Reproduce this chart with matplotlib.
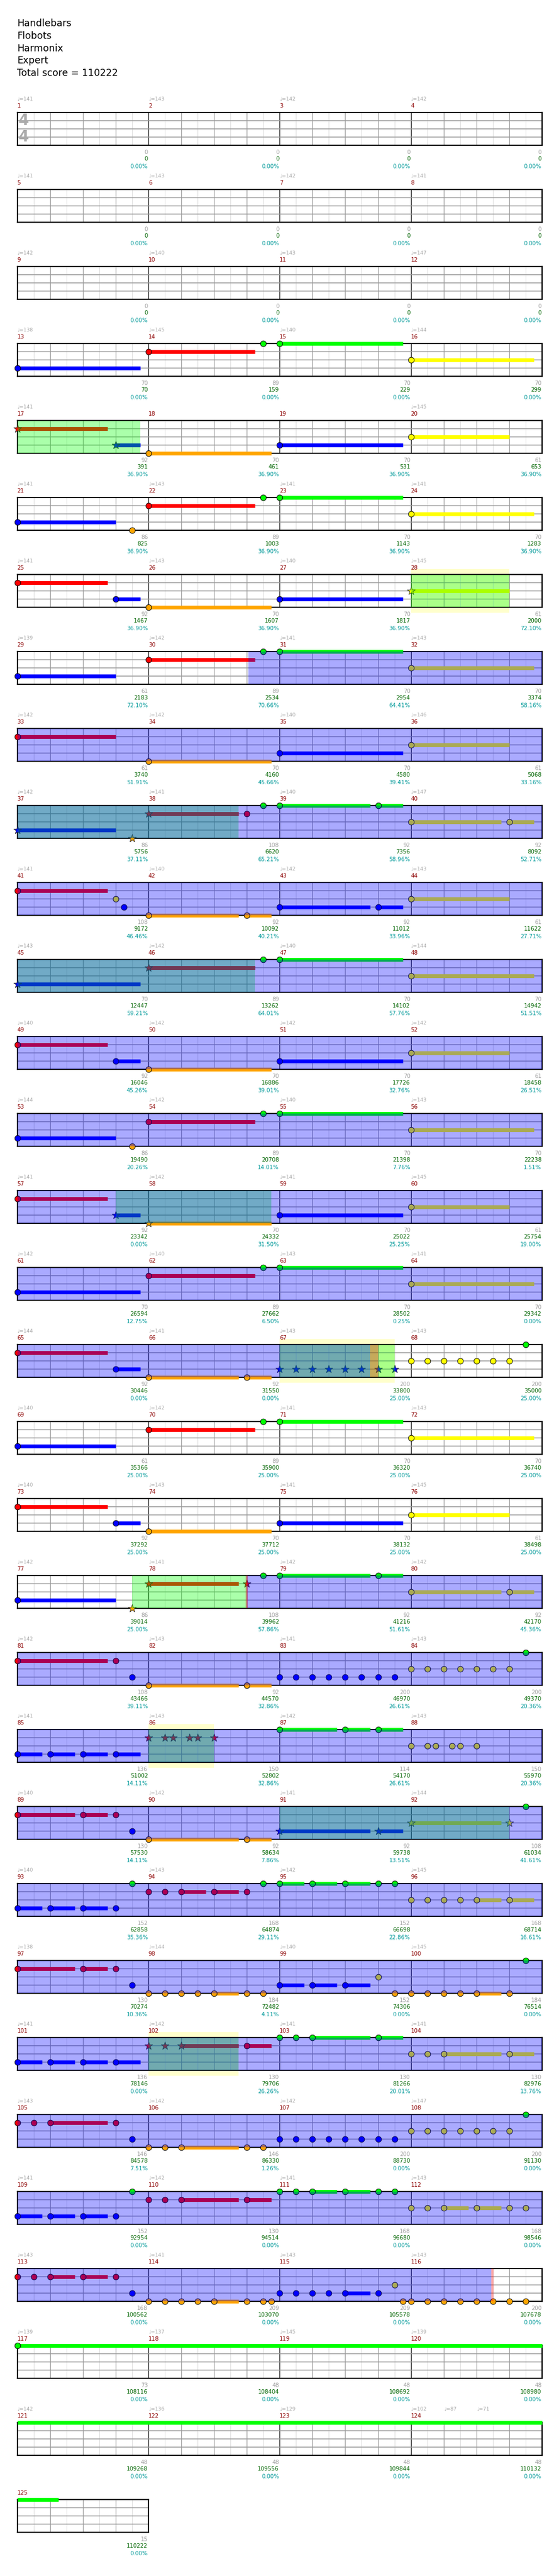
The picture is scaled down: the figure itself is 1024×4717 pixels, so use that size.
import matplotlib
matplotlib.use("Agg")
import matplotlib.pyplot as plt
from matplotlib.patches import Rectangle

W, H = 1024, 4717

title_lines = ["Handlebars", "Flobots", "Harmonix", "Expert", "Total score = 110222"]

# tempo shown at the start of each measure (None = no label)
tempos = [141, 143, 142, 142, 141, 143, 142, 141, 142, 140, 143, 147,
          138, 145, 140, 144, 141, None, None, 145, 141, 143, 141, 141,
          141, 143, 140, 145, 139, 142, 141, 143, 142, 142, 140, 146,
          142, 141, 140, 147, 141, 140, 142, 143, 143, 142, 140, 144,
          140, 142, 142, 142, 144, 142, 140, 143, 141, 142, 141, 145,
          142, 140, 143, 141, 144, 141, 143, 143, 140, 142, 141, 143,
          140, 143, 141, 145, 142, 141, 142, 142, 142, 143, 141, 143,
          141, 143, 142, 143, 140, 142, 141, 144, 140, 143, 142, 145,
          138, 144, 140, 145, 141, 142, 141, 141, 143, 142, 142, 147,
          141, 142, 141, 143, 143, 141, 143, 143, 139, 137, 145, 139,
          142, 136, 129, 102, None]
# (measure, beat within measure, bpm)
extra_tempos = [(124, 1.0, 87), (124, 2.0, 71)]

measure_points = [0] * 12 + [
    70, 89, 70, 70, 92, 70, 70, 61, 86, 89, 70, 70, 92, 70, 70, 61,
    61, 89, 70, 70, 61, 70, 70, 61, 86, 108, 92, 92, 108, 92, 92, 61,
    70, 89, 70, 70, 92, 70, 70, 61, 86, 89, 70, 70, 92, 70, 70, 61,
    70, 89, 70, 70, 92, 92, 200, 200, 61, 89, 70, 70, 92, 70, 70, 61,
    86, 108, 92, 92, 108, 92, 200, 200, 136, 150, 114, 150, 130, 92, 92, 108,
    152, 168, 152, 168, 130, 184, 152, 184, 136, 130, 130, 130, 146, 146, 200, 200,
    152, 130, 168, 168, 168, 209, 209, 200, 73, 48, 48, 48, 48, 48, 48, 48, 15]

cumulative = [0] * 12 + [
    70, 159, 229, 299, 391, 461, 531, 653, 825, 1003, 1143, 1283,
    1467, 1607, 1817, 2000, 2183, 2534, 2954, 3374, 3740, 4160, 4580, 5068,
    5756, 6620, 7356, 8092, 9172, 10092, 11012, 11622, 12447, 13262, 14102, 14942,
    16046, 16886, 17726, 18458, 19490, 20708, 21398, 22238, 23342, 24332, 25022, 25754,
    26594, 27662, 28502, 29342, 30446, 31550, 33800, 35000, 35366, 35900, 36320, 36740,
    37292, 37712, 38132, 38498, 39014, 39962, 41216, 42170, 43466, 44570, 46970, 49370,
    51002, 52802, 54170, 55970, 57530, 58634, 59738, 61034, 62858, 64874, 66698, 68714,
    70274, 72482, 74306, 76514, 78146, 79706, 81266, 82976, 84578, 86330, 88730, 91130,
    92954, 94514, 96680, 98546, 100562, 103070, 105578, 107678,
    108116, 108404, 108692, 108980, 109268, 109556, 109844, 110132, 110222]

od_percent = [0.0] * 16 + [
    36.90, 36.90, 36.90, 36.90, 36.90, 36.90, 36.90, 36.90, 36.90, 36.90, 36.90, 72.10,
    72.10, 70.66, 64.41, 58.16, 51.91, 45.66, 39.41, 33.16, 37.11, 65.21, 58.96, 52.71,
    46.46, 40.21, 33.96, 27.71, 59.21, 64.01, 57.76, 51.51, 45.26, 39.01, 32.76, 26.51,
    20.26, 14.01, 7.76, 1.51, 0.00, 31.50, 25.25, 19.00, 12.75, 6.50, 0.25, 0.00,
    0.00, 0.00, 25.00, 25.00, 25.00, 25.00, 25.00, 25.00, 25.00, 25.00, 25.00, 25.00,
    25.00, 57.86, 51.61, 45.36, 39.11, 32.86, 26.61, 20.36, 14.11, 32.86, 26.61, 20.36,
    14.11, 7.86, 13.51, 41.61, 35.36, 29.11, 22.86, 16.61, 10.36, 4.11, 0.00, 0.00,
    0.00, 26.26, 20.01, 13.76, 7.51, 1.26, 0.00, 0.00, 0.00, 0.00, 0.00, 0.00,
    0.00, 0.00, 0.00, 0.00] + [0.0] * 9

# notes: (first measure of row, beat within row, lane, sustain end beat (0 = none), kind)
# kind: 0 normal gem, 1 star-power gem, 2 sustain tail only (no gem)
notes = [
    (13, 0, 'B', 3.75, 0), (13, 4, 'R', 7.25, 0), (13, 7.5, 'G', 0, 0), (13, 8, 'G', 11.75, 0), (13, 12, 'Y', 15.75, 0),
    (17, 0, 'R', 2.75, 1), (17, 3, 'B', 3.75, 1), (17, 4, 'O', 7.75, 0), (17, 8, 'B', 11.75, 0), (17, 12, 'Y', 15, 0),
    (21, 0, 'B', 3, 0), (21, 3.5, 'O', 0, 0), (21, 4, 'R', 7.25, 0), (21, 7.5, 'G', 0, 0), (21, 8, 'G', 11.75, 0), (21, 12, 'Y', 15.75, 0),
    (25, 0, 'R', 2.75, 0), (25, 3, 'B', 3.75, 0), (25, 4, 'O', 7.75, 0), (25, 8, 'B', 11.75, 0), (25, 12, 'Y', 15, 1),
    (29, 0, 'B', 3, 0), (29, 4, 'R', 7.25, 0), (29, 7.5, 'G', 0, 0), (29, 8, 'G', 11.75, 0), (29, 12, 'Y', 15.75, 0),
    (33, 0, 'R', 3, 0), (33, 4, 'O', 7.75, 0), (33, 8, 'B', 11.75, 0), (33, 12, 'Y', 15, 0),
    (37, 0, 'B', 3, 1), (37, 3.5, 'O', 0, 1), (37, 4, 'R', 6.75, 1), (37, 7, 'R', 0, 0), (37, 7.5, 'G', 0, 0),
    (37, 8, 'G', 10.75, 0), (37, 11, 'G', 11.75, 0), (37, 12, 'Y', 14.75, 0), (37, 15, 'Y', 15.75, 0),
    (41, 0, 'R', 2.75, 0), (41, 3, 'Y', 0, 0), (41, 3.25, 'B', 0, 0), (41, 4, 'O', 6.75, 0), (41, 7, 'O', 7.75, 0),
    (41, 8, 'B', 10.75, 0), (41, 11, 'B', 11.75, 0), (41, 12, 'Y', 15, 0),
    (45, 0, 'B', 3.75, 1), (45, 4, 'R', 7.25, 1), (45, 7.5, 'G', 0, 0), (45, 8, 'G', 11.75, 0), (45, 12, 'Y', 15.75, 0),
    (49, 0, 'R', 2.75, 0), (49, 3, 'B', 3.75, 0), (49, 4, 'O', 7.75, 0), (49, 8, 'B', 11.75, 0), (49, 12, 'Y', 15, 0),
    (53, 0, 'B', 3, 0), (53, 3.5, 'O', 0, 0), (53, 4, 'R', 7.25, 0), (53, 7.5, 'G', 0, 0), (53, 8, 'G', 11.75, 0), (53, 12, 'Y', 15.75, 0),
    (57, 0, 'R', 2.75, 0), (57, 3, 'B', 3.75, 1), (57, 4, 'O', 7.75, 1), (57, 8, 'B', 11.75, 0), (57, 12, 'Y', 15, 0),
    (61, 0, 'B', 3.75, 0), (61, 4, 'R', 7.25, 0), (61, 7.5, 'G', 0, 0), (61, 8, 'G', 11.75, 0), (61, 12, 'Y', 15.75, 0),
    (65, 0, 'R', 2.75, 0), (65, 3, 'B', 3.75, 0), (65, 4, 'O', 6.75, 0), (65, 7, 'O', 7.75, 0),
    (65, 8, 'B', 0, 1), (65, 8.5, 'B', 0, 1), (65, 9, 'B', 0, 1), (65, 9.5, 'B', 0, 1),
    (65, 10, 'B', 0, 1), (65, 10.5, 'B', 0, 1), (65, 11, 'B', 0, 1), (65, 11.5, 'B', 0, 1),
    (65, 12, 'Y', 0, 0), (65, 12.5, 'Y', 0, 0), (65, 13, 'Y', 0, 0), (65, 13.5, 'Y', 0, 0),
    (65, 14, 'Y', 0, 0), (65, 14.5, 'Y', 0, 0), (65, 15, 'Y', 0, 0), (65, 15.5, 'G', 0, 0),
    (69, 0, 'B', 3, 0), (69, 4, 'R', 7.25, 0), (69, 7.5, 'G', 0, 0), (69, 8, 'G', 11.75, 0), (69, 12, 'Y', 15.75, 0),
    (73, 0, 'R', 2.75, 0), (73, 3, 'B', 3.75, 0), (73, 4, 'O', 7.75, 0), (73, 8, 'B', 11.75, 0), (73, 12, 'Y', 15, 0),
    (77, 0, 'B', 3, 0), (77, 3.5, 'O', 0, 1), (77, 4, 'R', 6.75, 1), (77, 7, 'R', 0, 1), (77, 7.5, 'G', 0, 0),
    (77, 8, 'G', 10.75, 0), (77, 11, 'G', 11.75, 0), (77, 12, 'Y', 14.75, 0), (77, 15, 'Y', 15.75, 0),
    (81, 0, 'R', 2.75, 0), (81, 3, 'R', 0, 0), (81, 3.5, 'B', 0, 0), (81, 4, 'O', 6.75, 0), (81, 7, 'O', 7.75, 0),
    (81, 8, 'B', 0, 0), (81, 8.5, 'B', 0, 0), (81, 9, 'B', 0, 0), (81, 9.5, 'B', 0, 0),
    (81, 10, 'B', 0, 0), (81, 10.5, 'B', 0, 0), (81, 11, 'B', 0, 0), (81, 11.5, 'B', 0, 0),
    (81, 12, 'Y', 0, 0), (81, 12.5, 'Y', 0, 0), (81, 13, 'Y', 0, 0), (81, 13.5, 'Y', 0, 0),
    (81, 14, 'Y', 0, 0), (81, 14.5, 'Y', 0, 0), (81, 15, 'Y', 0, 0), (81, 15.5, 'G', 0, 0),
    (85, 0, 'B', 0.75, 0), (85, 1, 'B', 1.75, 0), (85, 2, 'B', 2.75, 0), (85, 3, 'B', 3.75, 0),
    (85, 4, 'R', 0, 1), (85, 4.5, 'R', 0, 1), (85, 4.75, 'R', 0, 1), (85, 5.25, 'R', 0, 1), (85, 5.5, 'R', 0, 1), (85, 6, 'R', 0, 1),
    (85, 8, 'G', 9.75, 0), (85, 10, 'G', 10.75, 0), (85, 11, 'G', 11.75, 0),
    (85, 12, 'Y', 0, 0), (85, 12.5, 'Y', 0, 0), (85, 12.75, 'Y', 0, 0), (85, 13.25, 'Y', 0, 0), (85, 13.5, 'Y', 0, 0), (85, 14, 'Y', 0, 0),
    (89, 0, 'R', 1.75, 0), (89, 2, 'R', 2.75, 0), (89, 3, 'R', 0, 0), (89, 3.5, 'B', 0, 0),
    (89, 4, 'O', 6.75, 0), (89, 7, 'O', 7.75, 0), (89, 8, 'B', 10.75, 1), (89, 11, 'B', 11.75, 1),
    (89, 12, 'Y', 14.75, 1), (89, 15, 'Y', 0, 1), (89, 15.5, 'G', 0, 0),
    (93, 0, 'B', 0.75, 0), (93, 1, 'B', 1.75, 0), (93, 2, 'B', 2.75, 0), (93, 3, 'B', 0, 0), (93, 3.5, 'G', 0, 0),
    (93, 4, 'R', 0, 0), (93, 4.5, 'R', 0, 0), (93, 5, 'R', 5.75, 0), (93, 6, 'R', 6.75, 0), (93, 7, 'R', 0, 0), (93, 7.5, 'G', 0, 0),
    (93, 8, 'G', 8.75, 0), (93, 9, 'G', 9.75, 0), (93, 10, 'G', 10.75, 0), (93, 11, 'G', 0, 0), (93, 11.5, 'G', 0, 0),
    (93, 12, 'Y', 0, 0), (93, 12.5, 'Y', 0, 0), (93, 13, 'Y', 0, 0), (93, 13.5, 'Y', 0, 0), (93, 14, 'Y', 14.75, 0), (93, 15, 'Y', 15.75, 0),
    (97, 0, 'R', 1.75, 0), (97, 2, 'R', 2.75, 0), (97, 3, 'R', 0, 0), (97, 3.5, 'B', 0, 0),
    (97, 4, 'O', 0, 0), (97, 4.5, 'O', 0, 0), (97, 5, 'O', 0, 0), (97, 5.5, 'O', 0, 0), (97, 6, 'O', 6.75, 0), (97, 7, 'O', 0, 0), (97, 7.5, 'O', 0, 0),
    (97, 8, 'B', 8.75, 0), (97, 9, 'B', 9.75, 0), (97, 10, 'B', 10.75, 0), (97, 11, 'Y', 0, 0),
    (97, 11.5, 'O', 0, 0), (97, 12, 'O', 0, 0), (97, 12.5, 'O', 0, 0), (97, 13, 'O', 0, 0), (97, 13.5, 'O', 0, 0),
    (97, 14, 'O', 14.75, 0), (97, 15, 'O', 0, 0), (97, 15.5, 'G', 0, 0),
    (101, 0, 'B', 0.75, 0), (101, 1, 'B', 1.75, 0), (101, 2, 'B', 2.75, 0), (101, 3, 'B', 3.75, 0),
    (101, 4, 'R', 0, 1), (101, 4.5, 'R', 0, 1), (101, 5, 'R', 6.75, 1), (101, 7, 'R', 7.75, 0),
    (101, 8, 'G', 0, 0), (101, 8.5, 'G', 0, 0), (101, 9, 'G', 10.75, 0), (101, 11, 'G', 11.75, 0),
    (101, 12, 'Y', 0, 0), (101, 12.5, 'Y', 0, 0), (101, 13, 'Y', 14.75, 0), (101, 15, 'Y', 15.75, 0),
    (105, 0, 'R', 0, 0), (105, 0.5, 'R', 0, 0), (105, 1, 'R', 2.75, 0), (105, 3, 'R', 0, 0), (105, 3.5, 'B', 0, 0),
    (105, 4, 'O', 0, 0), (105, 4.5, 'O', 0, 0), (105, 5, 'O', 6.75, 0), (105, 7, 'O', 0, 0), (105, 7.5, 'O', 0, 0),
    (105, 8, 'B', 0, 0), (105, 8.5, 'B', 0, 0), (105, 9, 'B', 0, 0), (105, 9.5, 'B', 0, 0),
    (105, 10, 'B', 0, 0), (105, 10.5, 'B', 0, 0), (105, 11, 'B', 0, 0), (105, 11.5, 'B', 0, 0),
    (105, 12, 'Y', 0, 0), (105, 12.5, 'Y', 0, 0), (105, 13, 'Y', 0, 0), (105, 13.5, 'Y', 0, 0),
    (105, 14, 'Y', 0, 0), (105, 14.5, 'Y', 0, 0), (105, 15, 'Y', 0, 0), (105, 15.5, 'G', 0, 0),
    (109, 0, 'B', 0.75, 0), (109, 1, 'B', 1.75, 0), (109, 2, 'B', 2.75, 0), (109, 3, 'B', 0, 0), (109, 3.5, 'G', 0, 0),
    (109, 4, 'R', 0, 0), (109, 4.5, 'R', 0, 0), (109, 5, 'R', 6.75, 0), (109, 7, 'R', 7.75, 0),
    (109, 8, 'G', 0, 0), (109, 8.5, 'G', 0, 0), (109, 9, 'G', 9.75, 0), (109, 10, 'G', 10.75, 0), (109, 11, 'G', 0, 0), (109, 11.5, 'G', 0, 0),
    (109, 12, 'Y', 0, 0), (109, 12.5, 'Y', 0, 0), (109, 13, 'Y', 13.75, 0), (109, 14, 'Y', 14.75, 0), (109, 15, 'Y', 0, 0), (109, 15.5, 'Y', 0, 0),
    (113, 0, 'R', 0, 0), (113, 0.5, 'R', 0, 0), (113, 1, 'R', 1.75, 0), (113, 2, 'R', 2.75, 0), (113, 3, 'R', 0, 0), (113, 3.5, 'B', 0, 0),
    (113, 4, 'O', 0, 0), (113, 4.5, 'O', 0, 0), (113, 5, 'O', 0, 0), (113, 5.5, 'O', 0, 0), (113, 6, 'O', 6.75, 0),
    (113, 7, 'O', 0, 0), (113, 7.5, 'O', 0, 0), (113, 7.75, 'O', 0, 0),
    (113, 8, 'B', 0, 0), (113, 8.5, 'B', 0, 0), (113, 9, 'B', 0, 0), (113, 9.5, 'B', 0, 0), (113, 10, 'B', 10.75, 0), (113, 11, 'B', 0, 0),
    (113, 11.5, 'Y', 0, 0), (113, 11.75, 'O', 0, 0), (113, 12, 'O', 0, 0), (113, 12.5, 'O', 0, 0), (113, 13, 'O', 0, 0),
    (113, 13.5, 'O', 0, 0), (113, 14, 'O', 0, 0), (113, 14.5, 'O', 0, 0), (113, 15, 'O', 0, 0), (113, 15.5, 'O', 0, 0),
    (117, 0, 'G', 16, 0), (121, 0, 'G', 16, 2), (125, 0, 'G', 1.25, 2),
]

# shaded regions: (first measure of row, start beat, end beat)
overdrive = [(29, 7.04, 16), (33, 0, 16), (37, 0, 16), (41, 0, 16), (45, 0, 16), (49, 0, 16),
             (53, 0, 16), (57, 0, 16), (61, 0, 16), (65, 0, 10.75), (77, 7.0, 16), (81, 0, 16),
             (85, 0, 16), (89, 0, 16), (93, 0, 16), (97, 0, 16), (101, 0, 16), (105, 0, 16),
             (109, 0, 16), (113, 0, 14.45)]
star_phrases = [(17, 0, 3.75), (25, 12, 15), (37, 0, 6.75), (45, 0, 7.25), (57, 3, 7.75),
                (65, 8, 11.5), (77, 3.5, 7.0), (85, 4, 6), (89, 8, 15), (101, 4, 6.75)]
solo_zones = [(25, 12, 15), (65, 8, 11.5), (85, 4, 6), (101, 4, 6.75)]
od_end_marks = [(65, 10.75, 11.0), (77, 6.97, 7.03), (113, 14.45, 14.52)]

LANE = {'G': 0, 'R': 1, 'Y': 2, 'B': 3, 'O': 4}
COLOR = {'G': '#00FF00', 'R': '#FF0000', 'Y': '#FFFF00', 'B': '#0000FF', 'O': '#FFA500'}

PT = 0.72  # points per pixel at dpi 100
BOX_L, BOX_R = 31.5, 993.0
BOX_H = 60.0
FIRST_TOP = 206.0
ROW_PITCH = 141.0

fig = plt.figure(figsize=(W / 100, H / 100), dpi=100)
fig.patch.set_facecolor('white')

for i, line in enumerate(title_lines):
    fig.text(31 / W, 1 - (43 + 22.8 * i) / H, line, fontsize=12.5, ha='left', va='center',
             color='black', family='DejaVu Sans')

n_meas = len(tempos)
n_rows = (n_meas + 3) // 4
measure_w = (BOX_R - BOX_L) / 4

axes = {}
for r in range(n_rows):
    m0 = 4 * r + 1
    nm = min(4, n_meas - 4 * r)
    top = FIRST_TOP + ROW_PITCH * r
    ax = fig.add_axes([BOX_L / W, 1 - (top + BOX_H) / H, measure_w * nm / W, BOX_H / H])
    axes[m0] = ax
    nb = 4 * nm
    ax.set_xlim(0, nb)
    ax.set_ylim(4, 0)
    ax.set_xticks([])
    ax.set_yticks([])
    for s in ax.spines.values():
        s.set_linewidth(1.6)
        s.set_color('black')
    # grid
    for k in range(1, 2 * nb):
        b = k / 2
        if b % 4 == 0:
            ax.axvline(b, color='black', lw=0.8, zorder=1)
        elif b % 1 == 0:
            ax.axvline(b, color='#999999', lw=0.9, zorder=1)
        else:
            ax.axvline(b, color='#DDDDDD', lw=0.8, zorder=1)
    for ln in (1, 2, 3):
        ax.axhline(ln, color='#999999', lw=1.1, zorder=1.1)

    # labels
    for j in range(nm):
        m = m0 + j
        t = tempos[m - 1]
        if t is not None:
            ax.annotate(f"\u2669={t}", xy=(4 * j, 1), xycoords=('data', 'axes fraction'),
                        xytext=(0, 25 * PT), textcoords='offset points', ha='left', va='center',
                        fontsize=6.6, color='#AAAAAA', annotation_clip=False)
        ax.annotate(str(m), xy=(4 * j, 1), xycoords=('data', 'axes fraction'),
                    xytext=(0, 11.7 * PT), textcoords='offset points', ha='left', va='center',
                    fontsize=7.4, color='#8B0000', annotation_clip=False)
        xe = 4 * (j + 1)
        for txt, dy, col in ((str(measure_points[m - 1]), 12.7, '#A0A0A0'),
                             (str(cumulative[m - 1]), 25.3, '#006400'),
                             (f"{od_percent[m - 1]:.2f}%", 38.7, '#009999')):
            ax.annotate(txt, xy=(xe, 0), xycoords=('data', 'axes fraction'),
                        xytext=(-1 * PT, -dy * PT), textcoords='offset points', ha='right',
                        va='center', fontsize=7.4, color=col, annotation_clip=False)

for m, beat, bpm in extra_tempos:
    r0 = 4 * ((m - 1) // 4) + 1
    ax = axes[r0]
    ax.annotate(f"\u2669={bpm}", xy=(4 * (m - r0) + beat, 1), xycoords=('data', 'axes fraction'),
                xytext=(0, 25 * PT), textcoords='offset points', ha='left', va='center',
                fontsize=6.6, color='#AAAAAA', annotation_clip=False)

# time signature in the first box
ax1 = axes[1]
for ln in (1, 3):
    ax1.text(0.2, ln, "4", fontsize=20, color='#AAAAAA', ha='center', va='center',
             fontweight='bold', zorder=1.5, family='DejaVu Sans')

# solo zones (pale yellow, extending past the box)
for m0, a, b in solo_zones:
    ax = axes[m0]
    ax.add_patch(Rectangle((a, -10 / BOX_H), b - a, 1 + 20 / BOX_H,
                           transform=ax.get_xaxis_transform(), facecolor='#FFFFCC',
                           edgecolor='none', zorder=0.5, clip_on=False))

# notes
for m0, beat, lane, end, kind in notes:
    ax = axes[m0]
    y = LANE[lane]
    c = COLOR[lane]
    if end:
        ax.plot([beat, end], [y, y], color=c, lw=7 * PT, solid_capstyle='butt',
                zorder=2.6, clip_on=False)
    if kind == 2:
        continue
    if kind == 1:
        ax.scatter([beat], [y], s=120, marker='*', facecolor=c, edgecolor='#222222',
                   linewidths=0.6, zorder=3, clip_on=False)
    else:
        ax.scatter([beat], [y], s=58, marker='o', facecolor=c, edgecolor='black',
                   linewidths=0.7, zorder=3, clip_on=False)

# translucent overlays inside the boxes
for m0, a, b in star_phrases:
    axes[m0].axvspan(a, b, color='#00FF00', alpha=1 / 3, lw=0, zorder=4)
for m0, a, b in overdrive:
    axes[m0].axvspan(a, b, color='#0000FF', alpha=1 / 3, lw=0, zorder=4.1)
for m0, a, b in od_end_marks:
    axes[m0].axvspan(a, b, color='#FF0000', alpha=1 / 3, lw=0, zorder=4.2)

fig.savefig("out.png", dpi=100, facecolor='white')
